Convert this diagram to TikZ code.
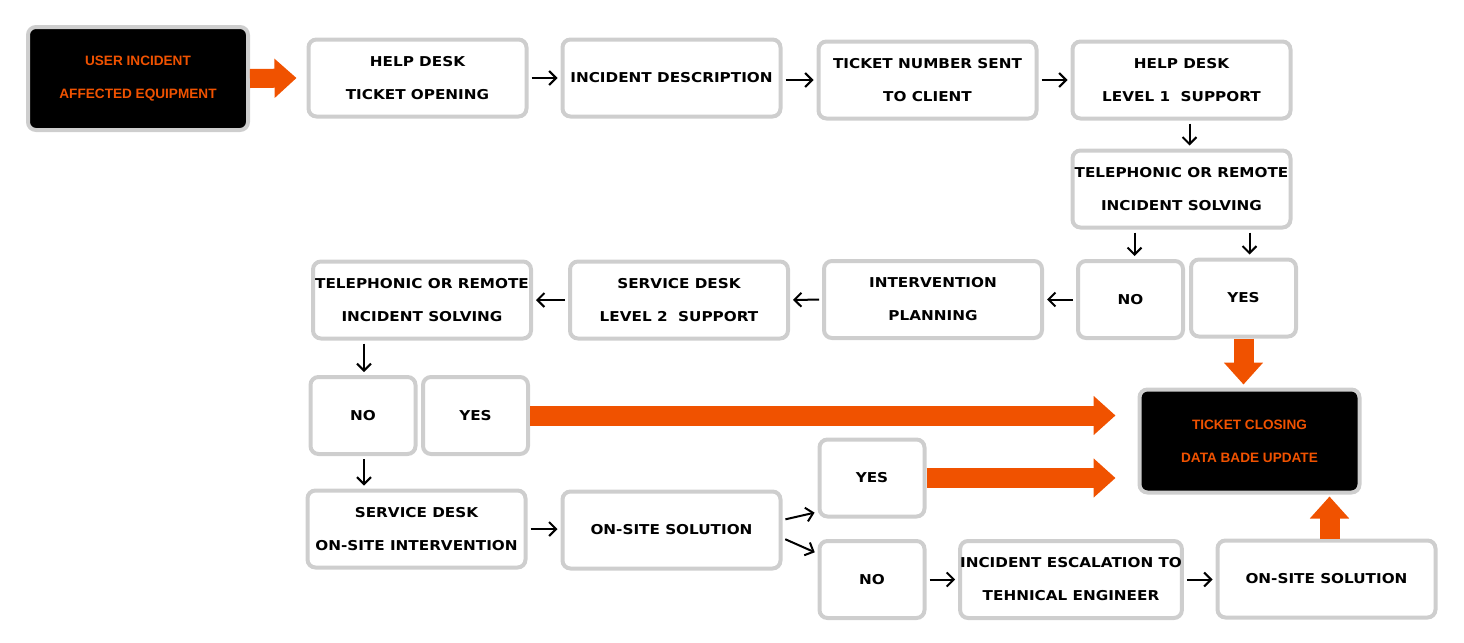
\documentclass[tikz,border=0pt]{standalone}
\usepackage{fontspec}
\newfontfamily\boxfont{DejaVu Sans}[FakeStretch=1.12]
\newfontfamily\darkfont{Liberation Sans}
\usepackage{xcolor}
\definecolor{boxgray}{RGB}{206,206,206}
\definecolor{fireorange}{RGB}{240,82,0}
\usetikzlibrary{arrows, arrows.meta}
\usetikzlibrary{calc}

\begin{document}
\begin{tikzpicture}[x=0.5pt, y=-0.5pt,
    box/.style={draw=boxgray, line width=2pt, rounded corners=4pt, fill=white, inner sep=0pt,
      minimum width=109pt, minimum height=38.5pt, align=center,
      font=\boxfont\bfseries\fontsize{6.8}{16.5}\selectfont},
    darkbox/.style={box, fill=black, text=fireorange, minimum width=110pt, minimum height=51.5pt,
      font=\darkfont\bfseries\fontsize{6.8}{16.5}\selectfont},
    answer/.style={box, minimum width=52.5pt},
    link/.style={line width=1pt, -{Straight Barb[length=3.5pt, width=7pt]}, shorten <=1.5pt, shorten >=1.5pt},
    bigarrow/.style={draw=fireorange, line width=10pt, -{Triangle[length=11pt, width=19pt]}}]
      \useasboundingbox (0, 0) rectangle (1464, 643);

      % first line
      \node[darkbox] (user) at (138, 78.5) {USER INCIDENT\\AFFECTED EQUIPMENT};
      \node[box] (open) at (417.5, 78) {HELP DESK\\TICKET OPENING};
      \node[box] (descr) at (671.5, 78) {INCIDENT DESCRIPTION};
      \node[box] (sent) at (927.5, 80) {TICKET NUMBER SENT\\TO CLIENT};
      \node[box] (level1) at (1181.5, 80) {HELP DESK\\LEVEL 1~~SUPPORT};
      \node[box] (remote1) at (1181.5, 189) {TELEPHONIC OR REMOTE\\INCIDENT SOLVING};
      \node[answer] (no1) at (1130.5, 299.5) {NO};
      \node[answer] (yes1) at (1243.5, 298) {YES};

      % second line
      \node[box] (plan) at (933, 299.5) {INTERVENTION\\PLANNING};
      \node[box] (level2) at (679, 300) {SERVICE DESK\\LEVEL 2~~SUPPORT};
      \node[box] (remote2) at (422, 300) {TELEPHONIC OR REMOTE\\INCIDENT SOLVING};
      \node[answer] (no2) at (363, 415.5) {NO};
      \node[answer] (yes2) at (475.5, 415.5) {YES};
      \node[darkbox] (close) at (1249.5, 441) {TICKET CLOSING\\DATA BADE UPDATE};

      % third line
      \node[box] (onsite) at (416.5, 529) {SERVICE DESK\\ON-SITE INTERVENTION};
      \node[box] (solution1) at (671.5, 530) {ON-SITE SOLUTION};
      \node[answer] (yes3) at (872, 478) {YES};
      \node[answer] (no3) at (872, 579.5) {NO};
      \node[box] (escal) at (1071, 579.5) {INCIDENT ESCALATION TO\\TEHNICAL ENGINEER};
      \node[box] (solution2) at (1326.5, 579) {ON-SITE SOLUTION};

      \draw[link] (open) -- (descr);
      \draw[link] (descr.east |- sent.west) -- (sent.west);
      \draw[link] (sent) -- (level1);
      \draw[link] ([xshift=4pt]level1.south) -- ([xshift=4pt]remote1.north);
      \draw[link] ([xshift=2pt]no1.north |- remote1.south) -- ([xshift=2pt]no1.north);
      \draw[link] ([xshift=3pt]yes1.north |- remote1.south) -- ([xshift=3pt]yes1.north);
      \draw[link] (no1.west) -- (plan.east |- no1.west);
      \draw[link] (plan) -- (level2);
      \draw[link] (level2) -- (remote2);
      \draw[link] ([xshift=0.5pt]no2.north |- remote2.south) -- ([xshift=0.5pt]no2.north);
      \draw[link] ([xshift=0.5pt]no2.south) -- ([xshift=0.5pt]no2.south |- onsite.north);
      \draw[link] (onsite.east) -- (solution1.west |- onsite.east);
      \draw[link] ([yshift=5pt]solution1.east) -- ([yshift=-17pt]yes3.west);
      \draw[link] ([yshift=-4pt]solution1.east) -- ([yshift=13pt]no3.west);
      \draw[link] (no3) -- (escal);
      \draw[link] (escal.east) -- (solution2.west |- escal.east);

      \draw[bigarrow, line width=9.5pt] (user.east) -- ([xshift=-5pt]open.west);
      \draw[bigarrow] (yes2.east) -- ($(close.west |- yes2.east) + (-22, 0)$);
      \draw[bigarrow] (yes3.east) -- ($(close.west |- yes3.east) + (-22, 0)$);
      \draw[bigarrow] (yes1.south) -- ([yshift=1.5pt]yes1.south |- close.north);
      \draw[bigarrow] ([xshift=1.5pt]solution2.north) -- ([xshift=1.5pt, yshift=-1pt]solution2.north |- close.south);
    \end{tikzpicture}
\end{document}
